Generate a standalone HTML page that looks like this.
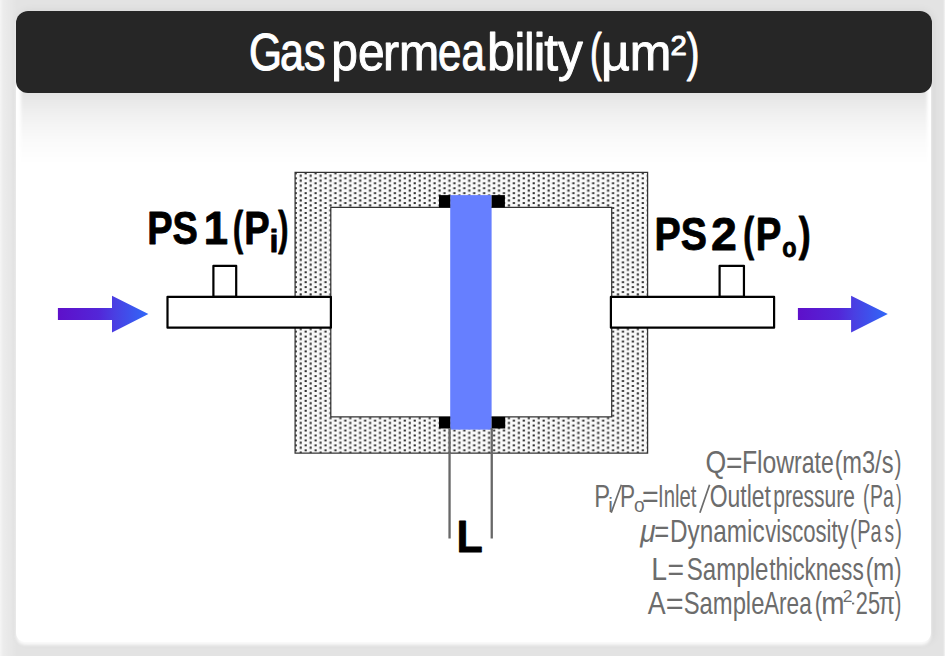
<!DOCTYPE html>
<html>
<head>
<meta charset="utf-8">
<title>Gas permeability</title>
<style>
  html, body { margin: 0; padding: 0; }
  body {
    width: 945px; height: 656px; overflow: hidden; position: relative;
    background: #e3e3e3;
    font-family: "Liberation Sans", sans-serif;
  }
  .card {
    position: absolute; left: 16px; top: 11px; width: 915px; height: 630.5px;
    background: #ffffff; border-radius: 12px 12px 9px 9px;
    box-shadow: 0 2.5px 3px 0 rgba(255,255,255,0.85), 2px 0 8px 1px rgba(0,0,0,0.055);
  }
  .banner {
    position: absolute; left: 16px; top: 11px; width: 915.5px; height: 81.5px;
    background: #262626; border-radius: 12px;
  }
  .edgeL { position:absolute; left:0; top:0; width:17px; height:656px; background: linear-gradient(to right, rgba(255,255,255,0.66) 0, rgba(255,255,255,0.34) 3px, rgba(255,255,255,0.2) 8px, rgba(255,255,255,0.1) 13px, rgba(255,255,255,0) 17px); }
  .edgeR { position:absolute; right:0; top:0; width:2px; height:656px; background: linear-gradient(to left, rgba(255,255,255,0.6), rgba(255,255,255,0)); }
  .bshadow {
    position: absolute; left: 21px; top: 90px; width: 906px; height: 74px; filter: blur(1.5px);
    background: linear-gradient(to bottom, rgba(0,0,0,0.105) 0px, rgba(0,0,0,0.105) 3px, rgba(0,0,0,0.082) 13px, rgba(0,0,0,0.06) 24px, rgba(0,0,0,0.036) 38px, rgba(0,0,0,0.016) 54px, rgba(0,0,0,0) 74px);
  }
  svg { position: absolute; left: 0; top: 0; }
  text { font-family: "Liberation Sans", sans-serif; }
</style>
</head>
<body>
<div class="edgeL"></div>
<div class="edgeR"></div>
<div class="card"></div>
<div class="bshadow"></div>
<div class="banner"></div>
<svg width="945" height="656" viewBox="0 0 945 656">
  <defs>
    <pattern id="dots" x="295" y="172.4" width="9.916" height="4.945" patternUnits="userSpaceOnUse">
      <rect x="0" y="0" width="10" height="5" fill="#f9f9f9"/>
      <rect x="4.61" y="2.27" width="2.2" height="2.2" rx="0.5" fill="#303030"/>
      <rect x="9.566" y="-0.2" width="0.35" height="2.2" fill="#303030"/>
      <rect x="-0.35" y="-0.2" width="2.2" height="2.2" rx="0.5" fill="#303030"/>
    </pattern>
    <linearGradient id="arr" x1="0" y1="0" x2="1" y2="0">
      <stop offset="0" stop-color="#5e10ca"/>
      <stop offset="0.45" stop-color="#5326d8"/>
      <stop offset="0.62" stop-color="#4a3ee2"/>
      <stop offset="1" stop-color="#3068f8"/>
    </linearGradient>
  </defs>

  <!-- dotted housing -->
  <path d="M295.1 172.4 H647.6 V453.1 H295.1 Z M330.8 207.4 V416.9 H611.7 V207.4 Z" fill="url(#dots)" fill-rule="evenodd" stroke="#333333" stroke-width="1.25"/>

  <!-- sample -->
  <rect x="450.2" y="195.1" width="41.4" height="234.5" fill="#667fff"/>
  <rect x="439" y="195.1" width="11.2" height="12.3" fill="#000"/>
  <rect x="491.6" y="195.1" width="13.3" height="12.3" fill="#000"/>
  <rect x="439" y="416.9" width="11.2" height="11.6" fill="#000"/>
  <rect x="491.6" y="416.9" width="13.6" height="11.6" fill="#000"/>

  <!-- L lines -->
  <rect x="448.4" y="428" width="2.3" height="110.5" fill="#686868"/>
  <rect x="490.6" y="428" width="2.3" height="110.5" fill="#686868"/>

  <!-- left pipe -->
  <rect x="213.4" y="265.8" width="22.8" height="31" fill="#fff" stroke="#000" stroke-width="2.2" stroke-linejoin="round"/>
  <rect x="167.5" y="296.8" width="163.4" height="30.9" fill="#fff" stroke="#000" stroke-width="2.2" stroke-linejoin="round"/>
  <!-- right pipe -->
  <rect x="719.6" y="265.8" width="24.35" height="31" fill="#fff" stroke="#000" stroke-width="2.2" stroke-linejoin="round"/>
  <rect x="610.9" y="296.8" width="163.2" height="30.9" fill="#fff" stroke="#000" stroke-width="2.2" stroke-linejoin="round"/>

  <!-- arrows -->
  <path d="M57.9 308 H112 V295.7 L148.4 314.1 L112 332.5 V319.9 H57.9 Z" fill="url(#arr)"/>
  <path d="M797.9 308 H851.1 V295.7 L887.8 314.1 L851.1 332.5 V319.9 H797.9 Z" fill="url(#arr)"/>

  <!-- text -->
  <text transform="translate(248.88 69.68) scale(0.8119 1)" font-size="52.22" fill="#ffffff" stroke="#ffffff" stroke-width="1.0" vector-effect="non-scaling-stroke" stroke-linejoin="round">G</text>
  <text transform="translate(280.04 69.68) scale(0.8235 1)" font-size="52.22" fill="#ffffff" stroke="#ffffff" stroke-width="1.0" vector-effect="non-scaling-stroke" stroke-linejoin="round">as</text>
  <text transform="translate(331.27 69.68) scale(0.9169 1)" font-size="52.22" fill="#ffffff" stroke="#ffffff" stroke-width="1.0" vector-effect="non-scaling-stroke" stroke-linejoin="round">pe</text>
  <text transform="translate(382.98 69.68) scale(0.9247 1)" font-size="52.22" fill="#ffffff" stroke="#ffffff" stroke-width="1.0" vector-effect="non-scaling-stroke" stroke-linejoin="round">rm</text>
  <text transform="translate(438.08 69.68) scale(0.8054 1)" font-size="52.22" fill="#ffffff" stroke="#ffffff" stroke-width="1.0" vector-effect="non-scaling-stroke" stroke-linejoin="round">ea</text>
  <text transform="translate(487.11 69.68) scale(0.9660 1)" font-size="52.22" fill="#ffffff" stroke="#ffffff" stroke-width="1.0" vector-effect="non-scaling-stroke" stroke-linejoin="round">b</text>
  <text transform="translate(514.47 69.68) scale(0.9280 1)" font-size="52.22" fill="#ffffff" stroke="#ffffff" stroke-width="1.0" vector-effect="non-scaling-stroke" stroke-linejoin="round">i</text>
  <text transform="translate(524.36 69.68) scale(0.8724 1)" font-size="52.22" fill="#ffffff" stroke="#ffffff" stroke-width="1.0" vector-effect="non-scaling-stroke" stroke-linejoin="round">l</text>
  <text transform="translate(533.23 69.68) scale(1.0827 1)" font-size="52.22" fill="#ffffff" stroke="#ffffff" stroke-width="1.0" vector-effect="non-scaling-stroke" stroke-linejoin="round">i</text>
  <text transform="translate(544.27 69.68) scale(0.9491 1)" font-size="52.22" fill="#ffffff" stroke="#ffffff" stroke-width="1.0" vector-effect="non-scaling-stroke" stroke-linejoin="round">ty</text>
  <text transform="translate(589.96 69.68) scale(0.6763 1)" font-size="52.22" fill="#ffffff" stroke="#ffffff" stroke-width="1.0" vector-effect="non-scaling-stroke" stroke-linejoin="round">(</text>
  <text transform="translate(601.10 69.68) scale(0.9565 1)" font-size="52.22" fill="#ffffff" stroke="#ffffff" stroke-width="1.0" vector-effect="non-scaling-stroke" stroke-linejoin="round">µm</text>
  <text transform="translate(686.85 69.68) scale(0.7272 1)" font-size="52.22" fill="#ffffff" stroke="#ffffff" stroke-width="1.0" vector-effect="non-scaling-stroke" stroke-linejoin="round">)</text>
  <text transform="translate(670.53 54.60) scale(1.0376 1)" font-size="28.28" fill="#ffffff" stroke="#ffffff" stroke-width="1.0" vector-effect="non-scaling-stroke" stroke-linejoin="round">2</text>
  <text transform="translate(147.17 244.40) scale(0.8083 1)" font-size="47" font-weight="bold" fill="#000000" stroke="#000000" stroke-width="0.8" vector-effect="non-scaling-stroke" stroke-linejoin="round">PS</text>
  <text transform="translate(203.63 244.40) scale(0.9301 1)" font-size="47" font-weight="bold" fill="#000000" stroke="#000000" stroke-width="0.8" vector-effect="non-scaling-stroke" stroke-linejoin="round">1</text>
  <text transform="translate(232.88 244.40) scale(0.6459 1)" font-size="47" font-weight="bold" fill="#000000" stroke="#000000" stroke-width="0.8" vector-effect="non-scaling-stroke" stroke-linejoin="round">(</text>
  <text transform="translate(244.16 244.40) scale(0.8110 1)" font-size="47" font-weight="bold" fill="#000000" stroke="#000000" stroke-width="0.8" vector-effect="non-scaling-stroke" stroke-linejoin="round">P</text>
  <text transform="translate(269.55 251.60) scale(1.0386 1)" font-size="31" font-weight="bold" fill="#000000" stroke="#000000" stroke-width="0.8" vector-effect="non-scaling-stroke" stroke-linejoin="round">i</text>
  <text transform="translate(278.30 244.40) scale(0.6459 1)" font-size="47" font-weight="bold" fill="#000000" stroke="#000000" stroke-width="0.8" vector-effect="non-scaling-stroke" stroke-linejoin="round">)</text>
  <text transform="translate(654.58 250.40) scale(0.8360 1)" font-size="47" font-weight="bold" fill="#000000" stroke="#000000" stroke-width="0.8" vector-effect="non-scaling-stroke" stroke-linejoin="round">PS</text>
  <text transform="translate(710.95 250.40) scale(0.9905 1)" font-size="47" font-weight="bold" fill="#000000" stroke="#000000" stroke-width="0.8" vector-effect="non-scaling-stroke" stroke-linejoin="round">2</text>
  <text transform="translate(743.17 250.40) scale(0.6915 1)" font-size="47" font-weight="bold" fill="#000000" stroke="#000000" stroke-width="0.8" vector-effect="non-scaling-stroke" stroke-linejoin="round">(</text>
  <text transform="translate(755.75 250.40) scale(0.8148 1)" font-size="47" font-weight="bold" fill="#000000" stroke="#000000" stroke-width="0.8" vector-effect="non-scaling-stroke" stroke-linejoin="round">P</text>
  <text transform="translate(782.26 257.00) scale(0.8371 1)" font-size="28" font-weight="bold" fill="#000000" stroke="#000000" stroke-width="0.8" vector-effect="non-scaling-stroke" stroke-linejoin="round">o</text>
  <text transform="translate(798.68 250.40) scale(0.7599 1)" font-size="47" font-weight="bold" fill="#000000" stroke="#000000" stroke-width="0.8" vector-effect="non-scaling-stroke" stroke-linejoin="round">)</text>
  <text transform="translate(456.43 552.20) scale(0.9535 1)" font-size="45.15" font-weight="bold" fill="#000000" stroke="#000000" stroke-width="0.8" vector-effect="non-scaling-stroke" stroke-linejoin="round">L</text>
  <text transform="translate(705.56 473.20) scale(0.8592 1)" font-size="31.0" fill="#6c6c6c">Q</text>
  <text transform="translate(726.09 473.20) scale(0.9077 1)" font-size="31.0" fill="#6c6c6c">=</text>
  <text transform="translate(741.94 473.20) scale(0.7993 1)" font-size="31.0" fill="#6c6c6c">Flow</text>
  <text transform="translate(794.06 473.20) scale(0.7438 1)" font-size="31.0" fill="#6c6c6c">rate</text>
  <text transform="translate(834.71 473.20) scale(0.7595 1)" font-size="31.0" fill="#6c6c6c">(</text>
  <text transform="translate(842.22 473.20) scale(0.7629 1)" font-size="31.0" fill="#6c6c6c">m3/s</text>
  <text transform="translate(894.56 473.20) scale(0.6737 1)" font-size="31.0" fill="#6c6c6c">)</text>
  <text transform="translate(594.32 507.30) scale(0.7669 1)" font-size="31.0" fill="#6c6c6c">P</text>
  <text transform="translate(608.22 512.40) scale(1.0131 1)" font-size="20.5" fill="#6c6c6c">i</text>
  <text transform="translate(620.11 507.30) scale(0.7304 1)" font-size="31.0" fill="#6c6c6c">P</text>
  <text transform="translate(633.97 512.40) scale(0.9119 1)" font-size="21" fill="#6c6c6c">o</text>
  <text transform="translate(641.97 507.30) scale(0.9210 1)" font-size="31.0" fill="#6c6c6c">=</text>
  <text transform="translate(658.10 507.30) scale(0.6560 1)" font-size="31.0" fill="#6c6c6c">Inlet</text>
  <text transform="translate(709.73 507.30) scale(0.7394 1)" font-size="31.0" fill="#6c6c6c">Outlet</text>
  <text transform="translate(773.27 507.30) scale(0.6761 1)" font-size="31.0" fill="#6c6c6c">pressure</text>
  <text transform="translate(863.07 507.30) scale(0.6247 1)" font-size="31.0" fill="#6c6c6c">(</text>
  <text transform="translate(870.08 507.30) scale(0.6282 1)" font-size="31.0" fill="#6c6c6c">Pa</text>
  <text transform="translate(895.99 507.30) scale(0.5390 1)" font-size="31.0" fill="#6c6c6c">)</text>
  <text transform="translate(640.26 542.40) scale(0.9032 1)" font-size="31.0" font-style="italic" fill="#6c6c6c">μ</text>
  <text transform="translate(654.22 542.40) scale(0.8276 1)" font-size="31.0" fill="#6c6c6c">=</text>
  <text transform="translate(669.97 542.40) scale(0.7851 1)" font-size="31.0" fill="#6c6c6c">Dynamic</text>
  <text transform="translate(765.23 542.40) scale(0.7121 1)" font-size="31.0" fill="#6c6c6c">viscosity</text>
  <text transform="translate(850.08 542.40) scale(0.6737 1)" font-size="31.0" fill="#6c6c6c">(</text>
  <text transform="translate(857.24 542.40) scale(0.6423 1)" font-size="31.0" fill="#6c6c6c">Pa</text>
  <text transform="translate(884.43 542.40) scale(0.6179 1)" font-size="31.0" fill="#6c6c6c">s</text>
  <text transform="translate(895.27 542.40) scale(0.6370 1)" font-size="31.0" fill="#6c6c6c">)</text>
  <text transform="translate(651.23 579.90) scale(0.9164 1)" font-size="31.0" fill="#6c6c6c">L</text>
  <text transform="translate(667.58 579.90) scale(0.9143 1)" font-size="31.0" fill="#6c6c6c">=</text>
  <text transform="translate(686.67 579.90) scale(0.7791 1)" font-size="31.0" fill="#6c6c6c">Sample</text>
  <text transform="translate(769.22 579.90) scale(0.7319 1)" font-size="31.0" fill="#6c6c6c">thickness</text>
  <text transform="translate(865.71 579.90) scale(0.7595 1)" font-size="31.0" fill="#6c6c6c">(</text>
  <text transform="translate(873.00 579.90) scale(0.8249 1)" font-size="31.0" fill="#6c6c6c">m</text>
  <text transform="translate(894.56 579.90) scale(0.6737 1)" font-size="31.0" fill="#6c6c6c">)</text>
  <text transform="translate(647.81 614.00) scale(0.8651 1)" font-size="31.0" fill="#6c6c6c">A</text>
  <text transform="translate(665.77 614.00) scale(0.9878 1)" font-size="31.0" fill="#6c6c6c">=</text>
  <text transform="translate(683.69 614.00) scale(0.7683 1)" font-size="31.0" fill="#6c6c6c">Sample</text>
  <text transform="translate(764.02 614.00) scale(0.7292 1)" font-size="31.0" fill="#6c6c6c">Area</text>
  <text transform="translate(814.71 614.00) scale(0.7105 1)" font-size="31.0" fill="#6c6c6c">(</text>
  <text transform="translate(821.13 614.00) scale(0.9032 1)" font-size="31.0" fill="#6c6c6c">m</text>
  <text transform="translate(842.72 601.90) scale(1.0126 1)" font-size="17.3" fill="#6c6c6c">2</text>
  <text transform="translate(855.81 614.00) scale(0.7021 1)" font-size="31.0" fill="#6c6c6c">25</text>
  <text transform="translate(878.66 614.00) scale(0.7604 1)" font-size="31.0" fill="#6c6c6c">π</text>
  <text transform="translate(894.87 614.00) scale(0.6370 1)" font-size="31.0" fill="#6c6c6c">)</text>
  <path d="M611.2 512.8 L621.4 484.8 M699.9 512.8 L709.6 484.8" stroke="#6c6c6c" stroke-width="1.7" fill="none"/>
  <rect x="852.0" y="602.6" width="2.2" height="1.8" fill="#6c6c6c"/>
</svg>
</body>
</html>
